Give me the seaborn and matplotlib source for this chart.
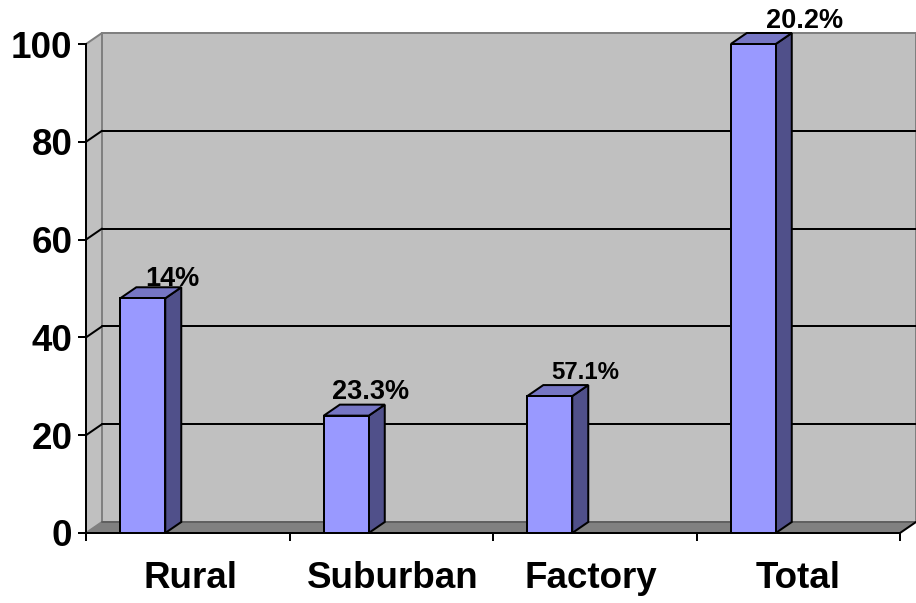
import matplotlib
matplotlib.use("Agg")
import matplotlib.pyplot as plt
from matplotlib.patches import Polygon
from matplotlib.transforms import Affine2D
import pandas as pd
import seaborn as sns

categories = ["Rural", "Suburban", "Factory", "Total"]
heights = [48, 24, 28, 100]
rates = ["14%", "23.3%", "57.1%", "20.2%"]
y_ticks = [0, 20, 40, 60, 80, 100]

FACE = "#9999ff"
TOP = "#7676c4"
SIDE = "#50508a"
WALL = "#c0c0c0"
FLOOR = "#808080"
EDGE_PX = 2
LW = EDGE_PX * 72 / 100
DEPTH_X, DEPTH_Y = 16, 11

sns.set_theme(style="white")
plt.rcParams["font.family"] = ["Liberation Sans", "DejaVu Sans"]

W, H = 916, 603
fig = plt.figure(figsize=(W / 100, H / 100), dpi=100, facecolor="white")
ax = fig.add_axes([86 / W, (H - 533) / H, 814 / W, 489 / H])
ax.patch.set_visible(False)

# Two empty series leave each visible bar in the first third of a wider cluster.
blank = [float("nan")] * len(heights)
table = pd.DataFrame({
    "category": categories * 3,
    "value": heights + blank + blank,
    "series": ["shown"] * 4 + ["blank a"] * 4 + ["blank b"] * 4,
})
sns.barplot(data=table, x="category", y="value", hue="series",
            hue_order=["shown", "blank a", "blank b"],
            palette=[FACE, FACE, FACE], saturation=1,
            width=0.663, gap=0, legend=False, edgecolor="black",
            linewidth=LW, ax=ax, zorder=3)

ax.set_xlim(-0.5, 3.5)
ax.set_ylim(0, 100)
ax.set_xlabel("")
ax.set_ylabel("")
ax.set_yticks(y_ticks)
ax.set_xticks(range(len(categories)))
ax.set_xticklabels(categories)
ax.set_xticks([i - 0.5 for i in range(len(categories) + 1)], minor=True)

ax.tick_params(axis="y", left=True, length=5.8, width=LW, color="black", pad=4,
               labelsize=26.5, labelcolor="black")
ax.tick_params(axis="x", which="major", bottom=False, pad=14, labelsize=26.5,
               labelcolor="black")
ax.tick_params(axis="x", which="minor", bottom=True, length=5.8, width=LW,
               color="black")
for label in ax.get_xticklabels() + ax.get_yticklabels():
    label.set_fontweight("bold")

# Small sideways nudges for the category names
for label, nudge in zip(ax.get_xticklabels(), [3, 2, -4, 0]):
    label.set_transform(label.get_transform() + Affine2D().translate(nudge, 0))

for side in ("top", "right"):
    ax.spines[side].set_visible(False)
for side in ("left", "bottom"):
    ax.spines[side].set_color("black")
    ax.spines[side].set_linewidth(LW)
    ax.spines[side].set_zorder(6)

back = ax.transData + Affine2D().translate(DEPTH_X, DEPTH_Y)
x0, x1 = ax.get_xlim()
y0, y1 = ax.get_ylim()


def add_poly(points, transform=ax.transData, **style):
    # The depth faces mix front and back planes, so vertices are resolved to pixels.
    ax.add_patch(Polygon(points, closed=True, transform=transform,
                         clip_on=False, **style))


def to_px(x, y, depth=False):
    return (back if depth else ax.transData).transform((x, y))


fig.canvas.draw()
pixel = Affine2D()

# Back wall, left wall and floor
add_poly([(x0, y0), (x1, y0), (x1, y1), (x0, y1)], transform=back,
         facecolor=WALL, edgecolor="#808080", linewidth=LW, zorder=0.2)
add_poly([to_px(x0, y0), to_px(x0, y0, True), to_px(x0, y1, True), to_px(x0, y1)],
         transform=pixel, facecolor=WALL, edgecolor="#808080", linewidth=LW,
         zorder=0.3)
add_poly([to_px(x0, y0), to_px(x1, y0), to_px(x1, y0, True), to_px(x0, y0, True)],
         transform=pixel, facecolor=FLOOR, edgecolor="none", zorder=0.4)
ax.plot([x0, x1], [y0, y0], transform=back, color="#606060", lw=LW, zorder=0.5,
        clip_on=False)
ax.plot(*zip(to_px(x1, y0), to_px(x1, y0, True)), transform=pixel, color="black",
        lw=LW, zorder=0.6, clip_on=False)

# Gridlines run along the back wall and fold forward onto the left wall
for tick in y_ticks[1:-1]:
    ax.plot([x0, x1], [tick, tick], transform=back, color="black", lw=LW,
            zorder=1, clip_on=False)
    ax.plot(*zip(to_px(x0, tick), to_px(x0, tick, True)), transform=pixel,
            color="black", lw=LW, zorder=1, clip_on=False)

# Extruded side and top of each bar, plus its rate label
bars = [p for p in ax.patches
        if p.get_zorder() == 3 and p.get_height() == p.get_height() and p.get_height() > 0]
bars = sorted(bars, key=lambda p: p.get_x())
label_sizes = [19.5, 19.5, 17.3, 19.5]
label_offsets = [(30, 19), (24, 24), (35, 24), (51, 23)]
for bar, rate, size, (dx, dy) in zip(bars, rates, label_sizes, label_offsets):
    left, right = bar.get_x(), bar.get_x() + bar.get_width()
    top = bar.get_height()
    add_poly([to_px(right, 0), to_px(right, 0, True), to_px(right, top, True),
              to_px(right, top)], transform=pixel, facecolor=SIDE,
             edgecolor="black", linewidth=LW, joinstyle="miter", zorder=2.5)
    add_poly([to_px(left, top), to_px(right, top), to_px(right, top, True),
              to_px(left, top, True)], transform=pixel, facecolor=TOP,
             edgecolor="black", linewidth=LW, joinstyle="miter", zorder=2.5)
    ax.annotate(rate, xy=((left + right) / 2, top), xytext=(dx, dy),
                textcoords="offset pixels", ha="center", va="center",
                fontsize=size, fontweight="bold", color="black", zorder=7,
                annotation_clip=False)

fig.savefig("out.png", dpi=100, facecolor="white")
